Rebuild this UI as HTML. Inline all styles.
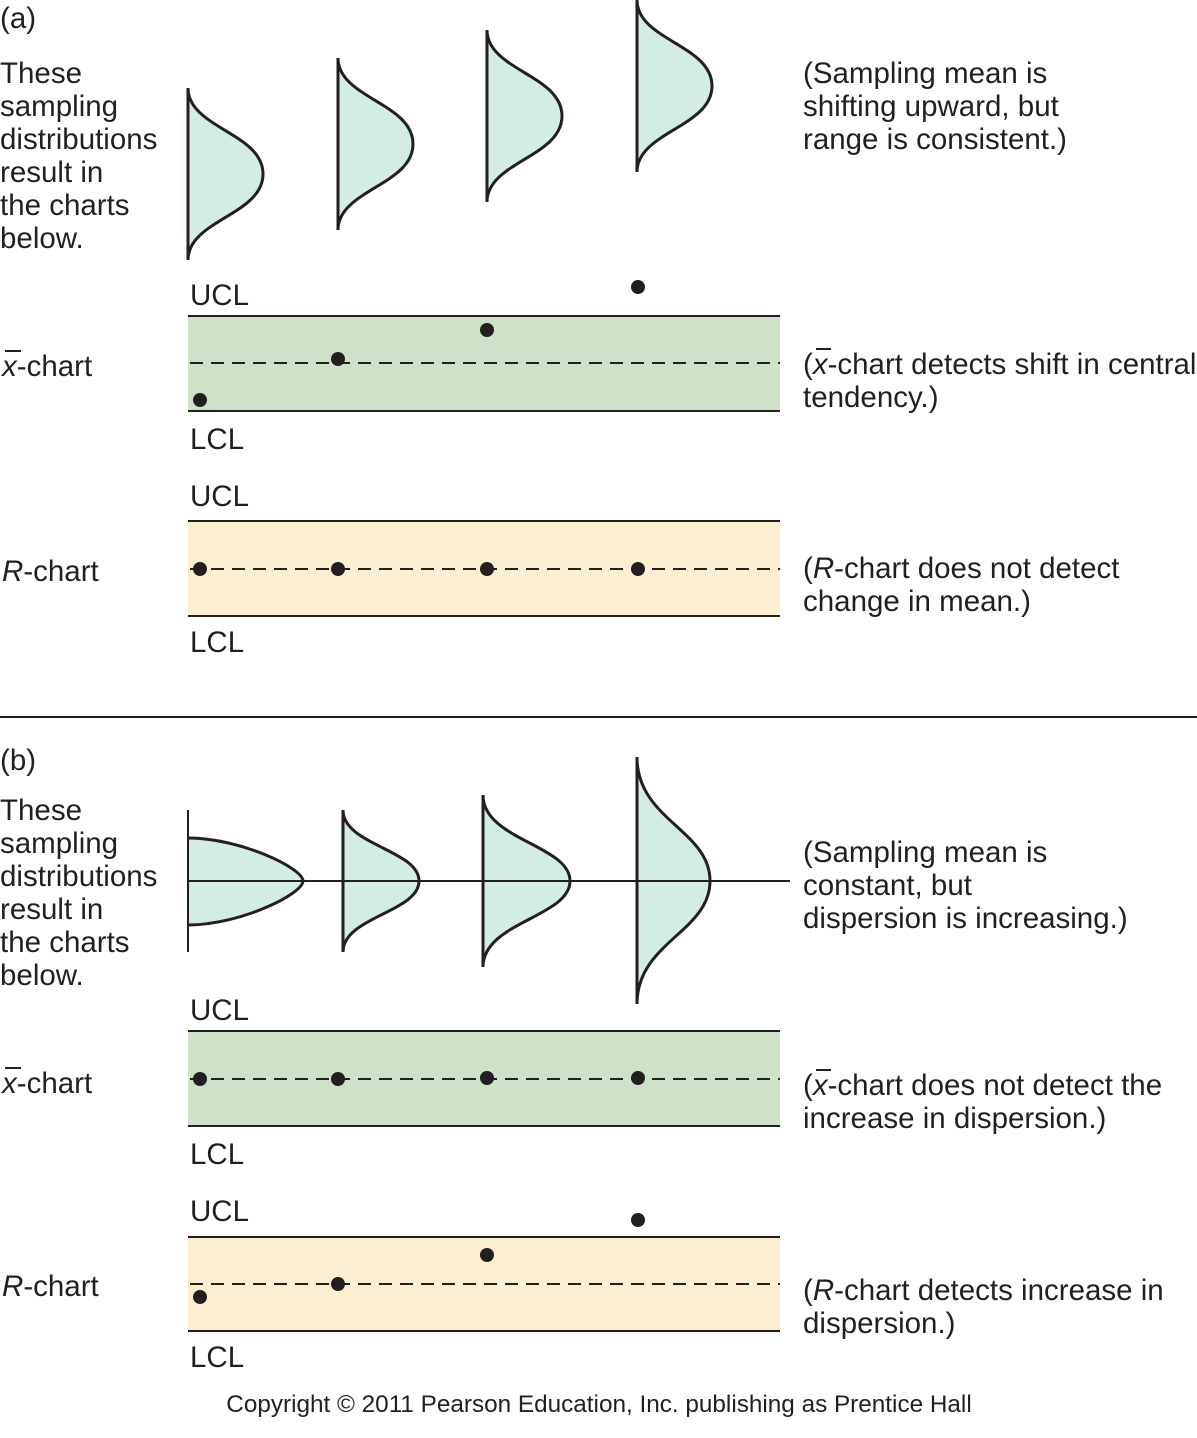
<!DOCTYPE html>
<html><head><meta charset="utf-8"><style>
html,body{margin:0;padding:0;background:#fff}
svg{display:block}
text{font-family:"Liberation Sans",sans-serif;font-size:29.5px;fill:#231f20}
</style></head><body>
<svg width="1197" height="1438" viewBox="0 0 1197 1438">
<defs>
<g id="curveA"><path d="M0,0 C0,40 75,45 75,86 C75,127 0,132 0,172 Z" fill="#d3ece6"/><path d="M0,0 C0,40 75,45 75,86 C75,127 0,132 0,172" fill="none" stroke="#231f20" stroke-width="3"/><line x1="0" y1="0" x2="0" y2="172" stroke="#231f20" stroke-width="3"/></g>
</defs>
<text x="0" y="28">(a)</text>
<g>
<text x="0" y="83">These</text><text x="0" y="116">sampling</text><text x="0" y="149">distributions</text><text x="0" y="182">result in</text><text x="0" y="215">the charts</text><text x="0" y="248">below.</text>
</g>
<use href="#curveA" x="188" y="88"/>
<use href="#curveA" x="338" y="58"/>
<use href="#curveA" x="487" y="30"/>
<use href="#curveA" x="637" y="0"/>
<text x="803" y="83">(Sampling mean is</text><text x="803" y="116">shifting upward, but</text><text x="803" y="149">range is consistent.)</text>

<text x="190" y="305">UCL</text><text x="190" y="449">LCL</text>
<rect x="188" y="316" width="592" height="95" fill="#cde2c8"/>
<line x1="188" y1="316" x2="780" y2="316" stroke="#231f20" stroke-width="2"/>
<line x1="188" y1="411" x2="780" y2="411" stroke="#231f20" stroke-width="2"/>
<line x1="190" y1="363" x2="780" y2="363" stroke="#231f20" stroke-width="2" stroke-dasharray="13,8"/>
<circle cx="200" cy="400" r="7" fill="#231f20"/><circle cx="338" cy="359" r="7" fill="#231f20"/><circle cx="487" cy="330" r="7" fill="#231f20"/><circle cx="638" cy="287" r="7" fill="#231f20"/>
<text x="2" y="376"><tspan font-style="italic">x</tspan>-chart</text><line x1="5" y1="351" x2="21" y2="351" stroke="#231f20" stroke-width="2"/>
<text x="803" y="374">(<tspan font-style="italic">x</tspan>-chart detects shift in central</text><line x1="816" y1="349" x2="831" y2="349" stroke="#231f20" stroke-width="2"/><text x="803" y="407">tendency.)</text>

<text x="190" y="506">UCL</text><text x="190" y="652">LCL</text>
<rect x="188" y="521" width="592" height="95" fill="#fdf0d2"/>
<line x1="188" y1="521" x2="780" y2="521" stroke="#231f20" stroke-width="2"/>
<line x1="188" y1="616" x2="780" y2="616" stroke="#231f20" stroke-width="2"/>
<line x1="190" y1="569" x2="780" y2="569" stroke="#231f20" stroke-width="2" stroke-dasharray="13,8"/>
<circle cx="200" cy="569" r="7" fill="#231f20"/><circle cx="338" cy="569" r="7" fill="#231f20"/><circle cx="487" cy="569" r="7" fill="#231f20"/><circle cx="638" cy="569" r="7" fill="#231f20"/>
<text x="2" y="581"><tspan font-style="italic">R</tspan>-chart</text>
<text x="803" y="578">(<tspan font-style="italic">R</tspan>-chart does not detect</text><text x="803" y="611">change in mean.)</text>

<line x1="0" y1="717" x2="1197" y2="717" stroke="#231f20" stroke-width="2"/>

<text x="0" y="770">(b)</text>
<text x="0" y="820">These</text><text x="0" y="853">sampling</text><text x="0" y="886">distributions</text><text x="0" y="919">result in</text><text x="0" y="952">the charts</text><text x="0" y="985">below.</text>
<path d="M188,838 C240,838 303,868 303,881 C303,894 240,925 188,925 Z" fill="#d3ece6"/>
<path d="M188,838 C240,838 303,868 303,881 C303,894 240,925 188,925" fill="none" stroke="#231f20" stroke-width="3"/>
<line x1="188" y1="810" x2="188" y2="952" stroke="#231f20" stroke-width="2"/>
<path d="M343,810 C343,845 419,850 419,881 C419,912 343,917 343,952 Z" fill="#d3ece6"/><path d="M343,810 C343,845 419,850 419,881 C419,912 343,917 343,952" fill="none" stroke="#231f20" stroke-width="3"/><line x1="343" y1="810" x2="343" y2="952" stroke="#231f20" stroke-width="3"/>
<path d="M483,795 C483,840 570,845 570,881 C570,917 483,922 483,967 Z" fill="#d3ece6"/><path d="M483,795 C483,840 570,845 570,881 C570,917 483,922 483,967" fill="none" stroke="#231f20" stroke-width="3"/><line x1="483" y1="795" x2="483" y2="967" stroke="#231f20" stroke-width="3"/>
<path d="M637,757 C637,820 710,830 710,881 C710,932 637,942 637,1004 Z" fill="#d3ece6"/><path d="M637,757 C637,820 710,830 710,881 C710,932 637,942 637,1004" fill="none" stroke="#231f20" stroke-width="3"/><line x1="637" y1="757" x2="637" y2="1004" stroke="#231f20" stroke-width="3"/>
<line x1="188" y1="881" x2="790" y2="881" stroke="#231f20" stroke-width="2"/>
<text x="803" y="862">(Sampling mean is</text><text x="803" y="895">constant, but</text><text x="803" y="928">dispersion is increasing.)</text>

<text x="190" y="1020">UCL</text><text x="190" y="1164">LCL</text>
<rect x="188" y="1031" width="592" height="95" fill="#cde2c8"/>
<line x1="188" y1="1031" x2="780" y2="1031" stroke="#231f20" stroke-width="2"/>
<line x1="188" y1="1126" x2="780" y2="1126" stroke="#231f20" stroke-width="2"/>
<line x1="190" y1="1079" x2="780" y2="1079" stroke="#231f20" stroke-width="2" stroke-dasharray="13,8"/>
<circle cx="200" cy="1079" r="7" fill="#231f20"/><circle cx="338" cy="1079" r="7" fill="#231f20"/><circle cx="487" cy="1078" r="7" fill="#231f20"/><circle cx="638" cy="1078" r="7" fill="#231f20"/>
<text x="2" y="1093"><tspan font-style="italic">x</tspan>-chart</text><line x1="5" y1="1068" x2="21" y2="1068" stroke="#231f20" stroke-width="2"/>
<text x="803" y="1095">(<tspan font-style="italic">x</tspan>-chart does not detect the</text><line x1="816" y1="1070" x2="831" y2="1070" stroke="#231f20" stroke-width="2"/><text x="803" y="1128">increase in dispersion.)</text>

<text x="190" y="1221">UCL</text><text x="190" y="1367">LCL</text>
<rect x="188" y="1237" width="592" height="94" fill="#fdf0d2"/>
<line x1="188" y1="1237" x2="780" y2="1237" stroke="#231f20" stroke-width="2"/>
<line x1="188" y1="1331" x2="780" y2="1331" stroke="#231f20" stroke-width="2"/>
<line x1="190" y1="1284" x2="780" y2="1284" stroke="#231f20" stroke-width="2" stroke-dasharray="13,8"/>
<circle cx="200" cy="1297" r="7" fill="#231f20"/><circle cx="338" cy="1284" r="7" fill="#231f20"/><circle cx="487" cy="1255" r="7" fill="#231f20"/><circle cx="638" cy="1220" r="7" fill="#231f20"/>
<text x="2" y="1296"><tspan font-style="italic">R</tspan>-chart</text>
<text x="803" y="1300">(<tspan font-style="italic">R</tspan>-chart detects increase in</text><text x="803" y="1333">dispersion.)</text>

<text x="599" y="1412" text-anchor="middle" style="font-size:24.3px">Copyright © 2011 Pearson Education, Inc. publishing as Prentice Hall</text>
</svg>
</body></html>
